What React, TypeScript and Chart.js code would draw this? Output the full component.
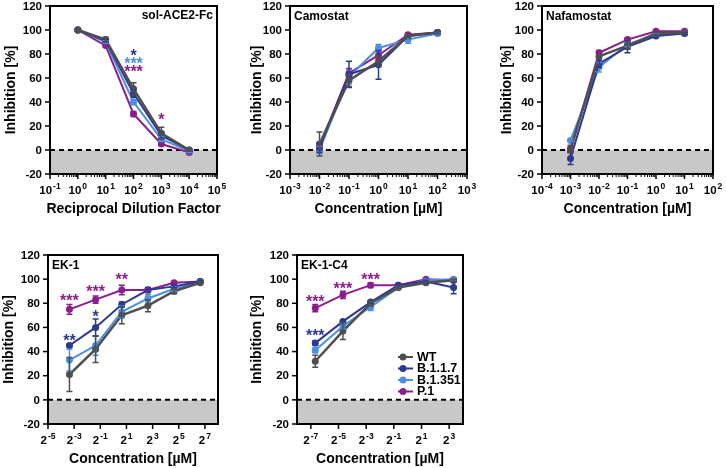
import React, { useEffect, useRef } from "react";
import { Chart, registerables } from "chart.js";

Chart.register(...registerables);

const FONT = '"Liberation Sans", Arial, Helvetica, sans-serif';

// ---- series ----
const seriesNames = ["WT", "B.1.1.7", "B.1.351", "P.1"];
const seriesColors = ["#4f4f4f", "#2b3990", "#4b8fdf", "#8b1d8d"];

// ---- sol-ACE2-Fc (x = log10 reciprocal dilution factor) ----
const ace2X = [0, 1, 2, 3, 4];
const ace2WT = [100, 92, 51, 14, 0];
const ace2B117 = [100, 91, 47, 12, 0];
const ace2B1351 = [100, 90, 40, 9, -1];
const ace2P1 = [100, 87, 30, 5, -2];
const ace2ErrWT = [0, 2, 5, 5, 1];
const ace2ErrB117 = [0, 1, 3, 3, 1];
const ace2ErrB1351 = [0, 1, 2, 2, 1];
const ace2ErrP1 = [0, 1, 2, 1, 1];
const ace2Stars = [
  { series: 1, idx: 2, y: 82, text: "*" },
  { series: 2, idx: 2, y: 75, text: "***" },
  { series: 3, idx: 2, y: 68, text: "***" },
  { series: 3, idx: 3, y: 28, text: "*" },
];
const ace2Ticks = [-1, 0, 1, 2, 3, 4, 5];

// ---- Camostat (x = log10 µM) ----
const camoX = [-2, -1, 0, 1, 2];
const camoWT = [5, 58, 74, 95, 98];
const camoB117 = [2, 63, 71, 95, 98];
const camoB1351 = [0, 61, 85, 92, 97];
const camoP1 = [3, 64, 79, 96, 98];
const camoErrWT = [10, 5, 4, 1, 1];
const camoErrB117 = [4, 11, 12, 1, 1];
const camoErrB1351 = [3, 6, 3, 3, 1];
const camoErrP1 = [3, 4, 3, 1, 1];
const camoTicks = [-3, -2, -1, 0, 1, 2, 3];

// ---- Nafamostat (x = log10 µM) ----
const nafaX = [-3, -2, -1, 0, 1];
const nafaWT = [1, 78, 87, 97, 98];
const nafaB117 = [-7, 72, 86, 95, 97];
const nafaB1351 = [8, 69, 88, 96, 98];
const nafaP1 = [0, 81, 92, 99, 99];
const nafaErrWT = [3, 2, 3, 1, 1];
const nafaErrB117 = [5, 3, 5, 1, 1];
const nafaErrB1351 = [1, 4, 2, 1, 1];
const nafaErrP1 = [2, 2, 1, 1, 1];
const nafaTicks = [-4, -3, -2, -1, 0, 1, 2];

// ---- EK-1 (x = log2 µM) ----
const ek1X = [-3.36, -1.36, 0.64, 2.64, 4.64, 6.64];
const ek1WT = [21, 42, 70, 78, 90, 97];
const ek1B117 = [45, 60, 79, 91, 94, 98];
const ek1B1351 = [33, 45, 73, 84, 92, 98];
const ek1P1 = [75, 83, 91, 91, 97, 98];
const ek1ErrWT = [14, 11, 7, 5, 2, 1];
const ek1ErrB117 = [1, 7, 2, 2, 1, 1];
const ek1ErrB1351 = [9, 8, 5, 3, 2, 1];
const ek1ErrP1 = [4, 3, 4, 1, 1, 1];
const ek1Stars = [
  { series: 3, idx: 0, y: 85, text: "***" },
  { series: 1, idx: 0, y: 52, text: "**" },
  { series: 3, idx: 1, y: 93, text: "***" },
  { series: 1, idx: 1, y: 72, text: "*" },
  { series: 3, idx: 2, y: 102.5, text: "**" },
];
const ek1Ticks = [-5, -3, -1, 1, 3, 5, 7];

// ---- EK-1-C4 (x = log2 µM) ----
const c4X = [-6.68, -4.68, -2.68, -0.68, 1.32, 3.32];
const c4WT = [32, 57, 80, 93, 97, 99];
const c4B117 = [47, 65, 81, 95, 98, 93];
const c4B1351 = [41, 61, 77, 93, 99, 100];
const c4P1 = [76, 87, 95, 95, 100, 99];
const c4ErrWT = [5, 7, 2, 1, 1, 1];
const c4ErrB117 = [2, 1, 1, 1, 1, 5];
const c4ErrB1351 = [2, 2, 3, 1, 1, 1];
const c4ErrP1 = [3, 3, 2, 1, 1, 1];
const c4Stars = [
  { series: 3, idx: 0, y: 84, text: "***" },
  { series: 3, idx: 1, y: 95.5, text: "***" },
  { series: 3, idx: 2, y: 103, text: "***" },
  { series: 1, idx: 0, y: 56, text: "***" },
];
const c4Ticks = [-7, -5, -3, -1, 1, 3];

const yTicks = [-20, 0, 20, 40, 60, 80, 100, 120];

type Star = { series: number; idx: number; y: number; text: string };
type Panel = {
  title: string;
  titleRight: boolean;
  xs: number[];
  values: number[][];
  errs: number[][];
  xMin: number;
  xMax: number;
  ticks: number[];
  base: string;
  minor: boolean;
  xTitle: string;
  stars: Star[];
  legend: boolean;
  // layout
  left: number;
  top: number;
  width: number;
  height: number;
  pad: { left: number; top: number; right: number; bottom: number };
  yTitleOffset: number;
};

const panels: Panel[] = [
  {
    title: "sol-ACE2-Fc", titleRight: true, xs: ace2X,
    values: [ace2WT, ace2B117, ace2B1351, ace2P1],
    errs: [ace2ErrWT, ace2ErrB117, ace2ErrB1351, ace2ErrP1],
    xMin: -1, xMax: 5, ticks: ace2Ticks, base: "10", minor: true,
    xTitle: "Reciprocal Dilution Factor", stars: ace2Stars, legend: false,
    left: 0, top: 0, width: 240, height: 225,
    pad: { left: 50, top: 6, right: 23, bottom: 51 }, yTitleOffset: 39,
  },
  {
    title: "Camostat", titleRight: false, xs: camoX,
    values: [camoWT, camoB117, camoB1351, camoP1],
    errs: [camoErrWT, camoErrB117, camoErrB1351, camoErrP1],
    xMin: -3, xMax: 3, ticks: camoTicks, base: "10", minor: true,
    xTitle: "Concentration [µM]", stars: [], legend: false,
    left: 240, top: 0, width: 240, height: 225,
    pad: { left: 50, top: 6, right: 13, bottom: 51 }, yTitleOffset: 33,
  },
  {
    title: "Nafamostat", titleRight: false, xs: nafaX,
    values: [nafaWT, nafaB117, nafaB1351, nafaP1],
    errs: [nafaErrWT, nafaErrB117, nafaErrB1351, nafaErrP1],
    xMin: -4, xMax: 2, ticks: nafaTicks, base: "10", minor: true,
    xTitle: "Concentration [µM]", stars: [], legend: false,
    left: 480, top: 0, width: 246, height: 225,
    pad: { left: 62, top: 6, right: 13, bottom: 51 }, yTitleOffset: 35,
  },
  {
    title: "EK-1", titleRight: false, xs: ek1X,
    values: [ek1WT, ek1B117, ek1B1351, ek1P1],
    errs: [ek1ErrWT, ek1ErrB117, ek1ErrB1351, ek1ErrP1],
    xMin: -5, xMax: 8, ticks: ek1Ticks, base: "2", minor: false,
    xTitle: "Concentration [µM]", stars: ek1Stars, legend: false,
    left: 0, top: 230, width: 240, height: 238,
    pad: { left: 48, top: 25, right: 22, bottom: 44 }, yTitleOffset: 39,
  },
  {
    title: "EK-1-C4", titleRight: false, xs: c4X,
    values: [c4WT, c4B117, c4B1351, c4P1],
    errs: [c4ErrWT, c4ErrB117, c4ErrB1351, c4ErrP1],
    xMin: -8, xMax: 4, ticks: c4Ticks, base: "2", minor: false,
    xTitle: "Concentration [µM]", stars: c4Stars, legend: true,
    left: 240, top: 230, width: 240, height: 238,
    pad: { left: 57, top: 25, right: 17, bottom: 44 }, yTitleOffset: 40,
  },
];

function makePlugin(p: Panel) {
  return {
    id: "panelDecor",
    beforeDatasetsDraw(chart: any) {
      const { ctx, chartArea: a, scales } = chart;
      const y = scales.y;
      const y0 = y.getPixelForValue(0);
      const yb = y.getPixelForValue(-20);
      ctx.save();
      ctx.fillStyle = "#c8c8c8";
      ctx.fillRect(a.left, y0, a.right - a.left, yb - y0);
      ctx.strokeStyle = "#000";
      ctx.lineWidth = 2;
      ctx.setLineDash([5, 4]);
      ctx.beginPath();
      ctx.moveTo(a.left, y0);
      ctx.lineTo(a.right, y0);
      ctx.stroke();
      ctx.restore();
    },
    afterDatasetsDraw(chart: any) {
      const { ctx, scales } = chart;
      const x = scales.x;
      const y = scales.y;
      ctx.save();
      ctx.lineWidth = 1.5;
      for (let s = p.values.length - 1; s >= 0; s--) {
        ctx.strokeStyle = seriesColors[s];
        p.xs.forEach((xv, i) => {
          const e = p.errs[s][i];
          if (!e) return;
          const v = p.values[s][i];
          const px = x.getPixelForValue(xv);
          const pt = y.getPixelForValue(v + e);
          const pb = y.getPixelForValue(v - e);
          ctx.beginPath();
          ctx.moveTo(px, pt);
          ctx.lineTo(px, pb);
          ctx.moveTo(px - 3, pt);
          ctx.lineTo(px + 3, pt);
          ctx.moveTo(px - 3, pb);
          ctx.lineTo(px + 3, pb);
          ctx.stroke();
        });
      }
      ctx.restore();
    },
    afterDraw(chart: any) {
      const { ctx, chartArea: a, scales } = chart;
      const x = scales.x;
      const y = scales.y;
      ctx.save();
      // frame
      ctx.strokeStyle = "#000";
      ctx.lineWidth = 2;
      ctx.strokeRect(a.left, a.top, a.right - a.left, a.bottom - a.top);
      // y ticks
      ctx.lineWidth = 1.5;
      ctx.fillStyle = "#000";
      ctx.font = `bold 11.5px ${FONT}`;
      ctx.textAlign = "right";
      ctx.textBaseline = "middle";
      yTicks.forEach((t) => {
        const py = y.getPixelForValue(t);
        ctx.beginPath();
        ctx.moveTo(a.left - 5, py);
        ctx.lineTo(a.left, py);
        ctx.stroke();
        ctx.fillText(String(t), a.left - 8, py + 0.5);
      });
      // x ticks
      p.ticks.forEach((t) => {
        const px = x.getPixelForValue(t);
        ctx.beginPath();
        ctx.moveTo(px, a.bottom);
        ctx.lineTo(px, a.bottom + 5);
        ctx.stroke();
        const exp = String(t);
        ctx.font = `bold 11.5px ${FONT}`;
        const wb = ctx.measureText(p.base).width;
        ctx.font = `bold 8.5px ${FONT}`;
        const we = ctx.measureText(exp).width;
        const x0 = px - (wb + we + 1) / 2;
        const cy = a.bottom + 16;
        ctx.textAlign = "left";
        ctx.textBaseline = "alphabetic";
        ctx.font = `bold 11.5px ${FONT}`;
        ctx.fillText(p.base, x0, cy + 4);
        ctx.font = `bold 8.5px ${FONT}`;
        ctx.fillText(exp, x0 + wb + 1, cy - 1);
      });
      if (p.minor) {
        ctx.lineWidth = 1;
        for (let e = p.xMin; e < p.xMax; e++) {
          for (let k = 2; k <= 9; k++) {
            const px = x.getPixelForValue(e + Math.log10(k));
            ctx.beginPath();
            ctx.moveTo(px, a.bottom);
            ctx.lineTo(px, a.bottom + 3);
            ctx.stroke();
          }
        }
      }
      // axis titles
      ctx.font = `bold 14px ${FONT}`;
      ctx.textAlign = "center";
      ctx.textBaseline = "middle";
      ctx.fillText(p.xTitle, (a.left + a.right) / 2, a.bottom + 35);
      ctx.save();
      ctx.translate(a.left - p.yTitleOffset, (a.top + a.bottom) / 2);
      ctx.rotate(-Math.PI / 2);
      ctx.fillText("Inhibition [%]", 0, 0);
      ctx.restore();
      // panel title
      ctx.font = `bold 12px ${FONT}`;
      ctx.textBaseline = "middle";
      if (p.titleRight) {
        ctx.textAlign = "right";
        ctx.fillText(p.title, a.right - 4, a.top + 10);
      } else {
        ctx.textAlign = "left";
        ctx.fillText(p.title, a.left + 4, a.top + 11);
      }
      // significance stars
      ctx.font = `bold 16px ${FONT}`;
      ctx.textAlign = "center";
      ctx.textBaseline = "alphabetic";
      p.stars.forEach((st) => {
        ctx.fillStyle = seriesColors[st.series];
        const px = x.getPixelForValue(p.xs[st.idx]);
        const py = y.getPixelForValue(st.y);
        ctx.fillText(st.text, px, py + 9);
      });
      // legend
      if (p.legend) {
        const lx = a.left + 101;
        seriesNames.forEach((name, i) => {
          const ly = a.top + 102 + i * 11.5;
          ctx.strokeStyle = seriesColors[i];
          ctx.fillStyle = seriesColors[i];
          ctx.lineWidth = 2;
          ctx.beginPath();
          ctx.moveTo(lx, ly);
          ctx.lineTo(lx + 15, ly);
          ctx.stroke();
          ctx.beginPath();
          ctx.arc(lx + 5, ly, 3.5, 0, Math.PI * 2);
          ctx.fill();
          ctx.fillStyle = "#000";
          ctx.font = `bold 12.5px ${FONT}`;
          ctx.textAlign = "left";
          ctx.textBaseline = "middle";
          ctx.fillText(name, lx + 19, ly + 0.5);
        });
      }
      ctx.restore();
    },
  };
}

function PanelChart({ p }: { p: Panel }) {
  const ref = useRef<HTMLCanvasElement | null>(null);
  useEffect(() => {
    if (!ref.current) return;
    const chart = new Chart(ref.current, {
      type: "line",
      data: {
        datasets: seriesNames.map((name, s) => ({
          label: name,
          data: p.xs.map((xv, i) => ({ x: xv, y: p.values[s][i] })),
          borderColor: seriesColors[s],
          backgroundColor: seriesColors[s],
          borderWidth: s === 0 ? 2.5 : 2,
          pointRadius: 3.5,
          pointBorderWidth: 0,
          pointHoverRadius: 3.5,
          tension: 0,
          fill: false,
        })),
      },
      options: {
        animation: false,
        responsive: false,
        maintainAspectRatio: false,
        devicePixelRatio: 1,
        events: [],
        layout: { padding: p.pad },
        plugins: {
          legend: { display: false },
          tooltip: { enabled: false },
          title: { display: false },
        },
        scales: {
          x: { type: "linear", min: p.xMin, max: p.xMax, display: false },
          y: { type: "linear", min: -20, max: 120, display: false },
        },
      } as any,
      plugins: [makePlugin(p)],
    });
    return () => chart.destroy();
  }, [p]);
  return (
    <canvas
      ref={ref}
      width={p.width}
      height={p.height}
      style={{ position: "absolute", left: p.left, top: p.top, width: p.width, height: p.height }}
    />
  );
}

export default function App() {
  return (
    <div style={{ position: "absolute", left: 0, top: 0, width: 726, height: 468, background: "#fff" }}>
      {panels.map((p, i) => (
        <PanelChart key={i} p={p} />
      ))}
    </div>
  );
}
